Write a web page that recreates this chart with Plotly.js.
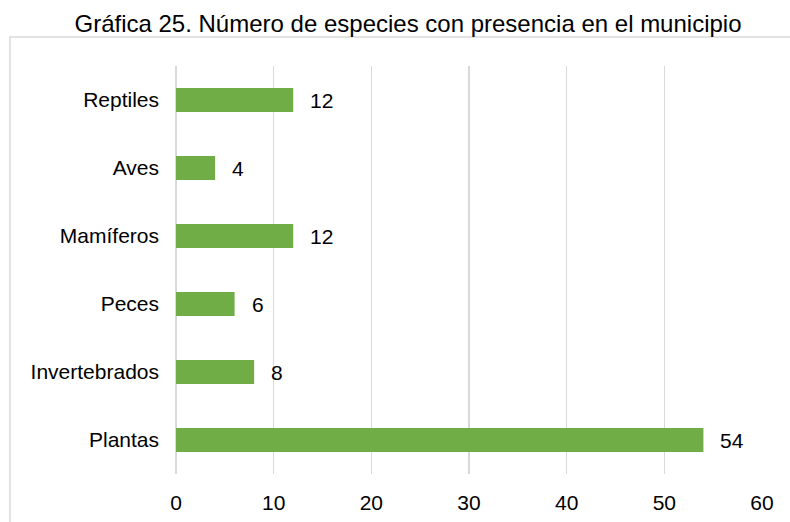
<!DOCTYPE html>
<html>
<head>
<meta charset="utf-8">
<script src="https://cdn.plot.ly/plotly-3.0.1.min.js"></script>
<style>html,body{margin:0;padding:0;background:#fff;}#chart{width:790px;height:522px;}</style>
</head>
<body>
<div id="chart"></div>
<script>
const categories = ['Plantas', 'Invertebrados', 'Peces', 'Mamíferos', 'Aves', 'Reptiles'];
const values = [54, 8, 6, 12, 4, 12];
const xTicks = [0, 10, 20, 30, 40, 50, 60];
const titleText = 'Gráfica 25. Número de especies con presencia en el municipio';

const FONT = 'Liberation Sans, Arial, sans-serif';
const W = 790, H = 522;
const margin = {l: 176, r: 28, t: 66, b: 48};
const pw = W - margin.l - margin.r, ph = H - margin.t - margin.b;

const trace = {
  type: 'bar',
  orientation: 'h',
  y: categories,
  x: values,
  width: 0.353,
  marker: {color: '#70AD47'},
  hoverinfo: 'none'
};

const annotations = categories.map((c, i) => ({
  x: values[i], y: c, xref: 'x', yref: 'y',
  text: String(values[i]), showarrow: false,
  xanchor: 'left', yanchor: 'middle', xshift: 15,
  font: {family: FONT, size: 21, color: '#000'}
}));

const layout = {
  width: W, height: H,
  margin: margin,
  paper_bgcolor: '#fff', plot_bgcolor: '#fff',
  showlegend: false,
  title: {
    text: titleText,
    font: {family: FONT, size: 24, color: '#000'},
    x: 408 / W, xanchor: 'center', xref: 'container',
    y: 1 - 24 / H, yanchor: 'middle', yref: 'container'
  },
  xaxis: {
    range: [0, 60],
    tickvals: xTicks,
    ticktext: xTicks.map(String),
    showgrid: true, gridcolor: '#d9d9d9', gridwidth: 1.5,
    zeroline: true, zerolinecolor: '#d9d9d9', zerolinewidth: 1.5,
    showline: false,
    ticks: '', ticklabelstandoff: 14,
    tickfont: {family: FONT, size: 21, color: '#000'},
    fixedrange: true
  },
  yaxis: {
    type: 'category',
    categoryorder: 'array', categoryarray: categories,
    range: [-0.5, 5.5],
    showgrid: false, zeroline: false, showline: false,
    ticks: '', ticklabelstandoff: 16,
    tickfont: {family: FONT, size: 21, color: '#000'},
    fixedrange: true
  },
  annotations: annotations,
  shapes: [{
    type: 'rect', xref: 'paper', yref: 'paper',
    x0: (10 - margin.l) / pw, x1: 2,
    y0: -1, y1: (H - margin.b - 37) / ph,
    line: {color: '#d9d9d9', width: 1.5},
    fillcolor: 'rgba(0,0,0,0)', layer: 'below'
  }]
};

Plotly.newPlot('chart', [trace], layout, {staticPlot: true, displayModeBar: false});
</script>
</body>
</html>
